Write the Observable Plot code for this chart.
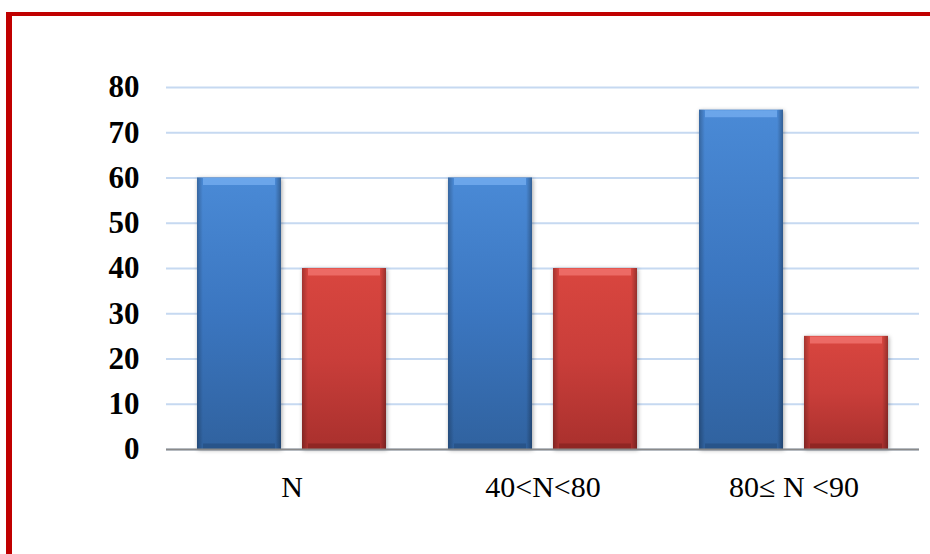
<!DOCTYPE html>
<html>
<head>
<meta charset="utf-8">
<script src="https://cdn.jsdelivr.net/npm/d3@7"></script>
<script src="https://cdn.jsdelivr.net/npm/@observablehq/plot@0.6"></script>
<style>
  html, body { margin: 0; padding: 0; background: #fff; }
  #wrap { position: relative; width: 930px; height: 554px; overflow: hidden; background: #fff; }
  #frame { position: absolute; left: 6px; top: 12px; width: 1200px; height: 1200px;
           border-left: 6px solid #c00000; border-top: 4px solid #c00000; box-sizing: border-box; }
  #chart { position: absolute; left: 0; top: 0; }
</style>
</head>
<body>
<svg width="0" height="0" style="position:absolute">
  <defs>
    <linearGradient id="gBlue" x1="0" y1="0" x2="0" y2="1">
      <stop offset="0" stop-color="#4a8ad6"/>
      <stop offset="0.5" stop-color="#3b76c0"/>
      <stop offset="1" stop-color="#30629f"/>
    </linearGradient>
    <linearGradient id="gRed" x1="0" y1="0" x2="0" y2="1">
      <stop offset="0" stop-color="#d9463f"/>
      <stop offset="0.5" stop-color="#c93e3a"/>
      <stop offset="1" stop-color="#a9302d"/>
    </linearGradient>
    <linearGradient id="gSide" x1="0" y1="0" x2="1" y2="0">
      <stop offset="0" stop-color="#000" stop-opacity="0.25"/>
      <stop offset="0.07" stop-color="#000" stop-opacity="0.0"/>
      <stop offset="0.93" stop-color="#000" stop-opacity="0.0"/>
      <stop offset="1" stop-color="#000" stop-opacity="0.3"/>
    </linearGradient>
  </defs>
</svg>
<div id="wrap"><div id="frame"></div><div id="chart"></div></div>
<script>
const categories = ["N", "40<N<80", "80\u2264 N <90"];
const seriesNames = ["A", "B"];
const blueValues = [60, 60, 75];
const redValues = [40, 40, 25];
const yTicks = [0, 10, 20, 30, 40, 50, 60, 70, 80];

const data = categories.flatMap((c, i) => [
  {cat: c, series: seriesNames[0], value: blueValues[i]},
  {cat: c, series: seriesNames[1], value: redValues[i]}
]);
const blueData = data.filter(d => d.series === seriesNames[0]);
const redData = data.filter(d => d.series === seriesNames[1]);

const serif = "'Liberation Serif', 'Times New Roman', serif";

const chart = Plot.plot({
  width: 930,
  height: 554,
  marginLeft: 166,
  marginRight: 11,
  marginTop: 87,
  marginBottom: 105,
  style: {background: "transparent", overflow: "visible"},
  y: {domain: [0, 80], axis: null},
  x: {domain: seriesNames, paddingInner: 0.2, paddingOuter: 0.295, axis: null},
  fx: {domain: categories, padding: 0, axis: null},
  marks: [
    Plot.gridY(yTicks, {stroke: "#c6d9f1", strokeOpacity: 1, strokeWidth: 2}),
    Plot.barY(blueData, {fx: "cat", x: "series", y: "value", fill: "url(#gBlue)",
      imageFilter: "drop-shadow(1px 1px 2px rgba(0,0,0,0.35))"}),
    Plot.barY(redData, {fx: "cat", x: "series", y: "value", fill: "url(#gRed)",
      imageFilter: "drop-shadow(1px 1px 2px rgba(0,0,0,0.35))"}),
    Plot.barY(data, {fx: "cat", x: "series", y: "value", fill: "url(#gSide)"}),
    Plot.tickY(blueData, {fx: "cat", x: "series", y: "value", stroke: "#6fa8ec", strokeWidth: 7, dy: 3.5, insetLeft: 6, insetRight: 6, strokeOpacity: 0.9}),
    Plot.tickY(redData, {fx: "cat", x: "series", y: "value", stroke: "#ee6e69", strokeWidth: 7, dy: 3.5, insetLeft: 6, insetRight: 6, strokeOpacity: 0.9}),
    Plot.tickY(blueData, {fx: "cat", x: "series", y: 0, stroke: "#254e80", strokeWidth: 6, dy: -3, insetLeft: 6, insetRight: 6, strokeOpacity: 0.7}),
    Plot.tickY(redData, {fx: "cat", x: "series", y: 0, stroke: "#85221f", strokeWidth: 6, dy: -3, insetLeft: 6, insetRight: 6, strokeOpacity: 0.7}),
    Plot.ruleY([0], {stroke: "#8a8a8a", strokeWidth: 2}),
    Plot.axisY(yTicks, {anchor: "left", tickSize: 0, tickPadding: 27, line: true, stroke: "#8a8a8a", strokeWidth: 2,
      fill: "#000", fontSize: 31, fontWeight: "bold", fontFamily: serif, label: null}),
    Plot.axisFx({anchor: "bottom", tickSize: 0, tickPadding: 26, fill: "#000",
      fontSize: 30, fontFamily: serif, label: null})
  ]
});
document.getElementById("chart").appendChild(chart);
</script>
</body>
</html>
